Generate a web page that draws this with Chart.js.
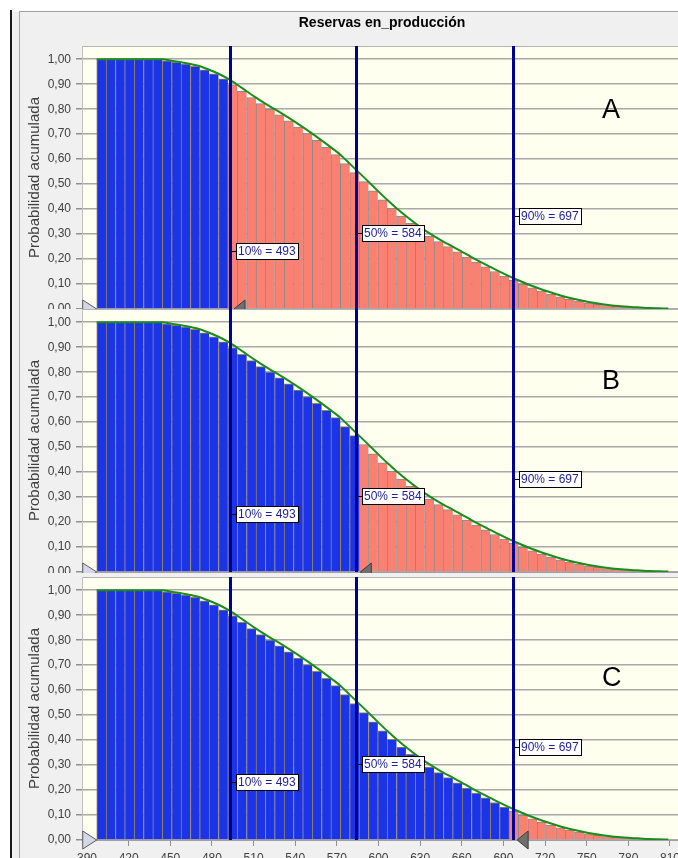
<!DOCTYPE html>
<html>
<head>
<meta charset="utf-8">
<script src="https://cdn.jsdelivr.net/npm/chart.js@4.4.1/dist/chart.umd.min.js"></script>
<style>
  body { margin: 0; background: #fff; width: 678px; height: 858px; overflow: hidden; position: relative;
         font-family: "Liberation Sans", Arial, sans-serif; }
  .panel { position: absolute; left: 0; width: 678px; overflow: hidden; }
  .panel canvas { position: absolute; left: 12px; }
  .line { position: absolute; }
  .tag { position: absolute; left: 602px; font-size: 27px; line-height: 27px; color: #000; }
</style>
</head>
<body>
<div class="panel" style="top:0;height:309px"><canvas id="chartA" width="680" height="337" style="top:12px"></canvas></div>
<div class="panel" style="top:309px;height:264px"><canvas id="chartB" width="680" height="337" style="top:-34px"></canvas></div>
<div class="panel" style="top:573px;height:285px"><canvas id="chartC" width="680" height="337" style="top:-30px"></canvas></div>

<div class="line" style="left:10px;top:10px;width:2px;height:848px;background:#1a1a1a"></div>
<div class="line" style="left:19px;top:11px;width:1px;height:847px;background:#a8a8a8"></div>
<div class="line" style="left:19px;top:11px;width:659px;height:1px;background:#a0a0a0"></div>

<div class="tag" style="top:96px">A</div>
<div class="tag" style="top:367px">B</div>
<div class="tag" style="top:664px">C</div>

<script>
// histogram bin edges (value axis) and reverse cumulative probability per bin
let binEdges = [397, 403.75, 410.5, 417.25, 424, 430.75, 437.5, 444.25, 451, 457.75,
  464.5, 471.25, 478, 484.75, 491.5, 498.25, 505, 511.75, 518.5, 525.25,
  532, 538.75, 545.5, 552.25, 559, 565.75, 572.5, 579.25, 586, 592.75,
  599.5, 606.25, 613, 619.75, 626.5, 633.25, 640, 646.75, 653.5, 660.25,
  667, 673.75, 680.5, 687.25, 694, 700.75, 707.5, 714.25, 721, 727.75,
  734.5, 741.25, 748, 754.75, 761.5, 768.25, 775, 781.75, 788.5, 795.25,
  802, 808.75];
let exceedProb = [1.000, 1.000, 1.000, 1.000, 1.000, 1.000, 1.000, 0.994, 0.988, 0.981,
  0.972, 0.958, 0.942, 0.922, 0.898, 0.872, 0.846, 0.822, 0.800, 0.777,
  0.753, 0.728, 0.702, 0.675, 0.647, 0.618, 0.582, 0.546, 0.510, 0.473,
  0.437, 0.403, 0.372, 0.343, 0.316, 0.292, 0.270, 0.250, 0.229, 0.208,
  0.188, 0.169, 0.150, 0.132, 0.115, 0.099, 0.085, 0.072, 0.060, 0.049,
  0.040, 0.032, 0.025, 0.019, 0.014, 0.011, 0.008, 0.006, 0.004, 0.003,
  0.002];
let probAtMin = 1.0;

let pctLabels = ['10%', '50%', '90%'];
let pctValues = [493, 584, 697];
let panelSplit = { chartA: 493, chartB: 584, chartC: 697 };

let xTicks = [390, 420, 450, 480, 510, 540, 570, 600, 630, 660, 690, 720, 750, 780, 810];
let yTicks = [0, 0.1, 0.2, 0.3, 0.4, 0.5, 0.6, 0.7, 0.8, 0.9, 1.0];

let chartTitle = 'Reservas en_producción';
let yTitle = 'Probabilidad acumulada';

const FONT = '"Liberation Sans", Arial, sans-serif';
const BLUE = '#1b34e8';
const RED = '#fa8072';
const LABEL_LEVELS = [0.233, 0.305, 0.374];

let bars = exceedProb.map((p, i) => ({ x: (binEdges[i] + binEdges[i + 1]) / 2, y: p }));
let curve = binEdges.map((e, i) => ({ x: e, y: i === 0 ? probAtMin : exceedProb[i - 1] }));

const decor = {
  id: 'decor',
  beforeDraw(chart) {
    const { ctx, chartArea: a } = chart;
    ctx.save();
    ctx.fillStyle = '#f0f0f0';
    ctx.fillRect(0, 0, chart.width, chart.height);
    ctx.fillStyle = '#fffff0';
    ctx.fillRect(a.left, a.top, a.right - a.left, a.bottom - a.top);
    ctx.strokeStyle = '#b4b4b4';
    ctx.lineWidth = 1;
    ctx.beginPath();
    ctx.moveTo(a.left, a.top + 0.5);
    ctx.lineTo(a.right, a.top + 0.5);
    ctx.stroke();

    ctx.fillStyle = '#000';
    ctx.font = 'bold 14px ' + FONT;
    ctx.textAlign = 'center';
    ctx.textBaseline = 'middle';
    ctx.fillText(chartTitle, 370, 11);

    ctx.translate(23, (a.top + a.bottom) / 2);
    ctx.rotate(-Math.PI / 2);
    ctx.font = '15px ' + FONT;
    ctx.fillStyle = '#404040';
    ctx.fillText(yTitle, 0, 0);
    ctx.restore();
  },
  afterDatasetsDraw(chart, args, opts) {
    const { ctx, chartArea: a, scales: { x, y } } = chart;
    ctx.save();
    // percentile lines
    pctValues.forEach(v => {
      const px = Math.round(x.getPixelForValue(v)) + 0.5;
      ctx.strokeStyle = '#000099';
      ctx.lineWidth = 3;
      ctx.beginPath();
      ctx.moveTo(px, a.top);
      ctx.lineTo(px, a.bottom);
      ctx.stroke();
    });
    // percentile labels
    ctx.font = '12px ' + FONT;
    pctValues.forEach((v, i) => {
      const px = Math.round(x.getPixelForValue(v));
      const py = Math.round(y.getPixelForValue(LABEL_LEVELS[i]));
      const text = pctLabels[i] + ' = ' + v;
      const w = Math.ceil(ctx.measureText(text).width) + 4;
      const bx = px + 6;
      ctx.fillStyle = '#fff';
      ctx.fillRect(bx, py - 8, w, 16);
      ctx.strokeStyle = '#000';
      ctx.lineWidth = 1;
      ctx.strokeRect(bx + 0.5, py - 7.5, w, 16);
      ctx.beginPath();
      ctx.moveTo(px + 2, py + 0.5);
      ctx.lineTo(bx, py + 0.5);
      ctx.stroke();
      ctx.fillStyle = '#1e1e96';
      ctx.textAlign = 'left';
      ctx.textBaseline = 'middle';
      ctx.fillText(text, bx + 2, py + 1);
    });
    // slider triangles
    const b = a.bottom;
    const tl = x.getPixelForValue(binEdges[0]);
    ctx.beginPath();
    ctx.moveTo(tl - 14, b - 9);
    ctx.lineTo(tl, b);
    ctx.lineTo(tl - 14, b + 9);
    ctx.closePath();
    ctx.fillStyle = '#d6d6ea';
    ctx.fill();
    ctx.strokeStyle = '#5a5a5a';
    ctx.lineWidth = 1;
    ctx.stroke();

    const ts = x.getPixelForValue(opts.split) + 4;
    ctx.beginPath();
    ctx.moveTo(ts + 11, b - 9);
    ctx.lineTo(ts, b);
    ctx.lineTo(ts + 11, b + 9);
    ctx.closePath();
    ctx.fillStyle = '#707070';
    ctx.fill();
    ctx.strokeStyle = '#3c3c3c';
    ctx.stroke();
    ctx.restore();
  }
};

function makeChart(id) {
  const split = panelSplit[id];
  return new Chart(document.getElementById(id).getContext('2d'), {
    type: 'bar',
    data: {
      datasets: [{
        type: 'line',
        data: curve,
        borderColor: '#1b8c1b',
        borderWidth: 2,
        pointRadius: 0,
        tension: 0.3,
        order: 0
      }, {
        type: 'bar',
        data: bars,
        backgroundColor: c => (c.raw && c.raw.x < split) ? BLUE : RED,
        borderColor: c => (c.raw && c.raw.x < split) ? '#958660' : '#8a8a8a',
        borderWidth: { left: 1, top: 1, right: 0, bottom: 0 },
        barPercentage: 1,
        categoryPercentage: 1,
        grouped: false,
        order: 1
      }]
    },
    options: {
      responsive: false,
      animation: false,
      layout: { padding: { top: 34, left: 0, right: 0, bottom: 0 } },
      plugins: {
        legend: { display: false },
        tooltip: { enabled: false },
        decor: { split: split }
      },
      scales: {
        x: {
          type: 'linear',
          min: 386.4,
          max: 825.85,
          offset: false,
          afterBuildTicks: s => { s.ticks = xTicks.map(v => ({ value: v })); },
          afterFit: s => { s.height = 40; },
          ticks: { color: '#404040', font: { size: 12, family: FONT }, padding: 5,
                   maxRotation: 0, autoSkip: false, callback: v => String(v) },
          grid: { drawOnChartArea: false, tickLength: 6, color: '#909090', offset: false },
          border: { color: '#a0a0a0' }
        },
        y: {
          min: 0,
          max: 1.053,
          afterBuildTicks: s => { s.ticks = yTicks.map(v => ({ value: v })); },
          afterFit: s => { s.width = 70; },
          ticks: { color: '#404040', font: { size: 12, family: FONT }, padding: 5,
                   callback: v => v.toFixed(2).replace('.', ',') },
          grid: { color: '#a8a8a8', lineWidth: 1.5, tickLength: 6, tickColor: '#909090' },
          border: { color: '#c0c0c0' }
        }
      }
    },
    plugins: [decor]
  });
}

makeChart('chartA');
makeChart('chartB');
makeChart('chartC');
</script>
</body>
</html>
